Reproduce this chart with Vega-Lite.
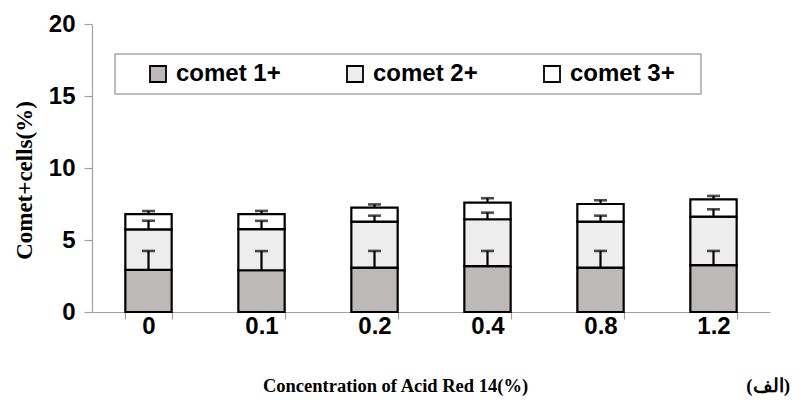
{
  "$schema": "https://vega.github.io/schema/vega-lite/v6.json",
  "width": 678,
  "height": 288,
  "autosize": {"type": "none"},
  "padding": {"left": 92, "top": 24, "right": 30, "bottom": 97},
  "background": "white",
  "config": {"view": {"stroke": null}},
  "title": {
    "text": "(الف)",
    "orient": "bottom",
    "anchor": "end",
    "font": "Liberation Serif",
    "fontSize": 19,
    "fontWeight": "bold",
    "color": "black",
    "dx": 20,
    "offset": -18
  },
  "data": {
    "values": [
      {"conc": "0", "type": "comet 1+", "ord": 1, "value": 2.92, "err": 1.32},
      {"conc": "0", "type": "comet 2+", "ord": 2, "value": 2.82, "err": 0.6},
      {"conc": "0", "type": "comet 3+", "ord": 3, "value": 1.06, "err": 0.21},
      {"conc": "0.1", "type": "comet 1+", "ord": 1, "value": 2.9, "err": 1.33},
      {"conc": "0.1", "type": "comet 2+", "ord": 2, "value": 2.85, "err": 0.58},
      {"conc": "0.1", "type": "comet 3+", "ord": 3, "value": 1.05, "err": 0.22},
      {"conc": "0.2", "type": "comet 1+", "ord": 1, "value": 3.08, "err": 1.16},
      {"conc": "0.2", "type": "comet 2+", "ord": 2, "value": 3.19, "err": 0.42},
      {"conc": "0.2", "type": "comet 3+", "ord": 3, "value": 0.98, "err": 0.22},
      {"conc": "0.4", "type": "comet 1+", "ord": 1, "value": 3.19, "err": 1.05},
      {"conc": "0.4", "type": "comet 2+", "ord": 2, "value": 3.25, "err": 0.46},
      {"conc": "0.4", "type": "comet 3+", "ord": 3, "value": 1.15, "err": 0.31},
      {"conc": "0.8", "type": "comet 1+", "ord": 1, "value": 3.08, "err": 1.16},
      {"conc": "0.8", "type": "comet 2+", "ord": 2, "value": 3.19, "err": 0.42},
      {"conc": "0.8", "type": "comet 3+", "ord": 3, "value": 1.23, "err": 0.26},
      {"conc": "1.2", "type": "comet 1+", "ord": 1, "value": 3.26, "err": 0.98},
      {"conc": "1.2", "type": "comet 2+", "ord": 2, "value": 3.36, "err": 0.51},
      {"conc": "1.2", "type": "comet 3+", "ord": 3, "value": 1.2, "err": 0.24}
    ]
  },
  "transform": [
    {"stack": "value", "groupby": ["conc"], "sort": [{"field": "ord", "order": "ascending"}], "as": ["y0", "y1"]},
    {"calculate": "datum.y1 + datum.err", "as": "hi"}
  ],
  "encoding": {
    "x": {
      "field": "conc",
      "type": "nominal",
      "sort": null,
      "scale": {"paddingInner": 0.59, "paddingOuter": 0.295},
      "axis": {
        "title": "Concentration of Acid Red 14(%)",
        "titleFont": "Liberation Serif",
        "titleFontSize": 18.5,
        "titleFontWeight": "bold",
        "titleColor": "black",
        "titleX": 303,
        "titleY": 73,
        "titleAlign": "center",
        "titleBaseline": "middle",
        "labelAngle": 0,
        "labelFont": "Liberation Sans",
        "labelFontSize": 24,
        "labelFontWeight": "bold",
        "labelColor": "black",
        "labelPadding": -5,
        "tickBand": "extent",
        "tickSize": 7,
        "tickColor": "#a0a0a0",
        "domainColor": "#a0a0a0",
        "tickWidth": 1.2,
        "domainWidth": 1.2
      }
    }
  },
  "layer": [
    {
      "mark": {"type": "bar", "stroke": "black", "strokeWidth": 2.2},
      "encoding": {
        "y": {
          "field": "y0",
          "type": "quantitative",
          "scale": {"domain": [0, 20], "nice": false},
          "axis": {
            "values": [0, 5, 10, 15, 20],
            "grid": false,
            "title": "Comet+cells(%)",
            "titleFont": "Liberation Serif",
            "titleFontSize": 23,
            "titleFontWeight": "bold",
            "titleColor": "black",
            "titlePadding": 12,
            "titleY": 156,
            "labelFont": "Liberation Sans",
            "labelFontSize": 24,
            "labelFontWeight": "bold",
            "labelColor": "black",
            "labelPadding": 9,
            "tickSize": 8,
            "tickColor": "#a0a0a0",
            "domainColor": "#a0a0a0",
            "tickWidth": 1.2,
            "domainWidth": 1.2
          }
        },
        "y2": {"field": "y1"},
        "fill": {
          "field": "type",
          "type": "nominal",
          "scale": {"domain": ["comet 1+", "comet 2+", "comet 3+"], "range": ["#bdb9b9", "#ededed", "#ffffff"]},
          "legend": {
            "title": " ",
            "titleOrient": "left",
            "titleFontSize": 1,
            "titlePadding": 23,
            "orient": "none",
            "legendX": 23,
            "legendY": 30,
            "direction": "horizontal",
            "symbolType": "square",
            "symbolSize": 256,
            "symbolStrokeColor": "black",
            "symbolStrokeWidth": 1.8,
            "symbolOpacity": 1,
            "labelFont": "Liberation Sans",
            "labelFontSize": 24,
            "labelFontWeight": "bold",
            "labelColor": "black",
            "labelOffset": 6,
            "labelLimit": 300,
            "labelExpr": "datum.value == 'comet 3+' ? 'comet 3+\u2800' : datum.label",
            "columnPadding": 62,
            "padding": 8,
            "strokeColor": "#a8a8a8",
            "fillColor": "white",
            "encode": {"legend": {"update": {"strokeWidth": {"value": 1.5}}}}
          }
        }
      }
    },
    {
      "mark": {"type": "rule", "color": "black", "strokeWidth": 2.2},
      "encoding": {
        "y": {"field": "y1", "type": "quantitative"},
        "y2": {"field": "hi"}
      }
    },
    {
      "mark": {"type": "tick", "color": "black", "size": 13, "thickness": 2.6, "orient": "horizontal"},
      "encoding": {
        "y": {"field": "hi", "type": "quantitative"}
      }
    }
  ]
}
